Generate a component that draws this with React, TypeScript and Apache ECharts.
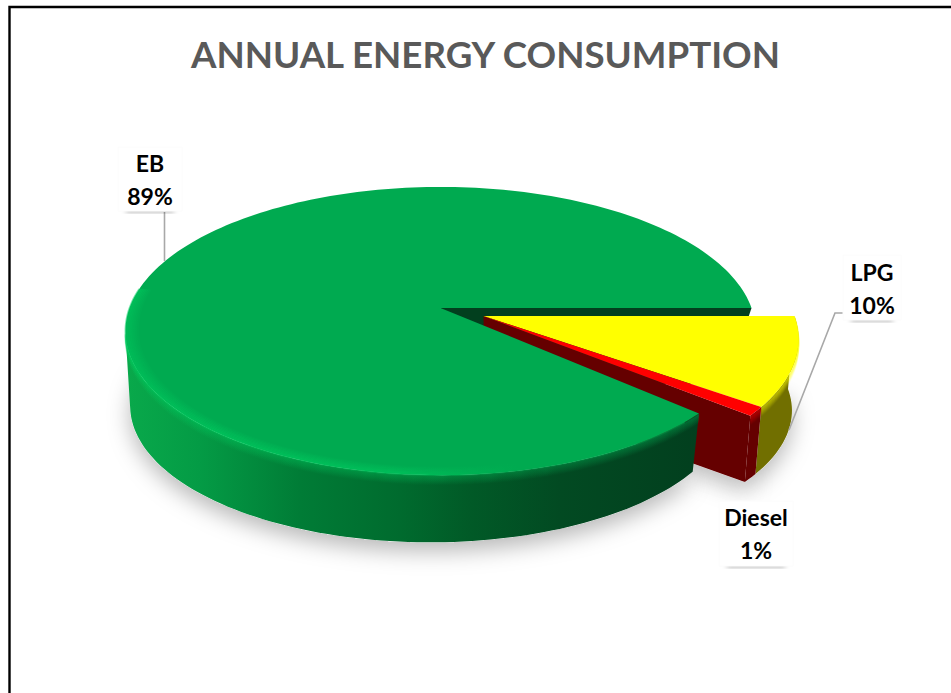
import React, { useEffect, useRef } from "react";
import * as echarts from "echarts";

// Annual energy consumption shares, drawn as a tilted, exploded 3D pie.
const categories = ["LPG", "Diesel", "EB"];
const shares = [10, 1, 89];
const chartTitle = "ANNUAL ENERGY CONSUMPTION";

const WIDTH = 951;
const HEIGHT = 693;

// Projective ellipse parameters of the disc's top and bottom rims.
const TILT = 0.16;
const TOP_RING = { cx: 440.5, cy: 308, a: 311, b: 140.4 };
const BOTTOM_RING = { cx: 430, cy: 384, a: 296, b: 133 };
const BOTTOM_RING_EXPLODED = { cx: 441, cy: 381, a: 304, b: 131 };
const EXPLODE = { LPG: [43, 8], Diesel: [43, 8], EB: [0, 0] };
// The large slice's cut leans slightly in perspective: top rim and base differ.
const CUT_GAP_TOP_DEG = 2.5;
const CUT_GAP_BOTTOM_DEG = -3;
const FRONT_WALL_END_DEG = 170;

const SLICE_STYLE = {
  LPG: { top: "#ffff00", side: "#716f00", wall: "#716f00" },
  Diesel: { top: "#ff0000", side: "#650000", wall: "#650000" },
  EB: { top: "#00aa50", side: "#014a22", wall: "#023f1e" },
};

const LABELS = {
  EB: { x: 150, y: 163, box: [118, 147, 64, 64] },
  LPG: { x: 872, y: 272, box: [843, 255, 58, 65] },
  Diesel: { x: 756, y: 517, box: [719, 501, 74, 65] },
};
const LEADERS = {
  EB: [[164.5, 212], [164.5, 261]],
  LPG: [[847, 313], [835, 313], [789, 430]],
};

type Ring = { cx: number; cy: number; a: number; b: number };

function project(deg: number, ring: Ring, off: number[], r = 1) {
  const t = (deg * Math.PI) / 180;
  const x = Math.cos(t) * r;
  const y = Math.sin(t) * r;
  const w = 1 - TILT * y;
  return [ring.cx + off[0] + (ring.a * x) / w, ring.cy + off[1] + (ring.b * y) / w];
}

function arc(from: number, to: number, ring: Ring, off: number[], r = 1) {
  const pts: number[][] = [];
  const n = Math.max(2, Math.ceil(Math.abs(to - from) / 1.5));
  for (let i = 0; i <= n; i++) pts.push(project(from + ((to - from) * i) / n, ring, off, r));
  return pts;
}

const xGradient = (stops: [number, string][], x0: number, x1: number) =>
  new echarts.graphic.LinearGradient(
    x0, 0, x1, 0,
    stops.map(([x, color]) => ({ offset: (x - x0) / (x1 - x0), color })),
    true,
  );

function sliceElements(name: string, start: number, end: number) {
  const off = EXPLODE[name];
  const style = SLICE_STYLE[name];
  const exploded = name !== "EB";
  const bottom = exploded ? BOTTOM_RING_EXPLODED : BOTTOM_RING;
  const out: any[] = [];
  const apexTop = [TOP_RING.cx + off[0], TOP_RING.cy + off[1]];
  const apexBottom = [bottom.cx + off[0], bottom.cy + off[1]];
  const cutTop = exploded ? start : start + CUT_GAP_TOP_DEG;
  const cutBottom = exploded ? start : start + CUT_GAP_BOTTOM_DEG;

  // soft drop shadow beneath the base
  out.push({
    type: "polygon",
    z2: 0,
    shape: { points: [apexBottom, ...arc(cutBottom, end, bottom, off)] },
    style: {
      fill: "#ffffff",
      shadowBlur: 22,
      shadowColor: "rgba(0,0,0,0.28)",
      shadowOffsetY: 9,
    },
  });

  const visibleEnd = exploded ? end : FRONT_WALL_END_DEG;
  const sideTop = arc(cutTop, visibleEnd, TOP_RING, off);
  const sideBottom = arc(cutBottom, visibleEnd, bottom, off);
  const sideFill =
    name === "EB"
      ? xGradient(
          [
            [125, "#09a94b"],
            [200, "#049b45"],
            [300, "#007c36"],
            [400, "#006b2e"],
            [470, "#015a27"],
            [560, "#024a22"],
            [700, "#023f1e"],
          ],
          125,
          700,
        )
      : style.side;
  const layer = exploded ? 2 : 5;

  out.push({
    type: "polygon",
    z2: layer,
    shape: { points: [...sideTop, ...sideBottom.slice().reverse()] },
    style: { fill: sideFill },
  });

  if (name === "EB") {
    // inner face of the cut, seen in the gap left by the pulled-out slices
    const a = project(0, TOP_RING, off);
    const b = project(0, bottom, off);
    out.push({
      type: "polygon",
      z2: 1,
      shape: { points: [apexTop, a, b, apexBottom] },
      style: { fill: style.wall },
    });
  }
  if (name === "Diesel") {
    // radial wall of the pulled-out slice, partly hidden by the large slice
    out.push({
      type: "polygon",
      z2: 2,
      shape: { points: [apexTop, project(end, TOP_RING, off), project(end, bottom, off), apexBottom] },
      style: { fill: style.wall },
    });
  }

  // bevel: the top colour bleeds a few pixels over the outer wall
  const bleed =
    name === "EB"
      ? xGradient(
          [
            [125, "#00c95c"],
            [400, "#00c25a"],
            [540, "#00a850"],
            [700, "#00a850"],
          ],
          125,
          700,
        )
      : style.top;
  for (let d = 9; d >= 1; d--) {
    out.push({
      type: "polyline",
      z2: layer + 1,
      shape: { points: arc(cutTop, visibleEnd, TOP_RING, [off[0], off[1] + d]) },
      style: { fill: "none", stroke: bleed, lineWidth: 1.6, opacity: (1 - d / 10) * 0.32 },
    });
  }

  out.push({
    type: "polygon",
    z2: layer + 2,
    shape: { points: [apexTop, ...arc(cutTop, end, TOP_RING, off)] },
    style: { fill: style.top },
  });

  if (name === "EB") {
    // brighter lip running just inside the front rim
    for (let i = 0; i < 8; i++) {
      const r = 1 - i * 0.0055;
      out.push({
        type: "polyline",
        z2: layer + 3,
        shape: { points: arc(46, 188, TOP_RING, off, r) },
        style: {
          fill: "none",
          stroke: xGradient(
            [
              [125, "#00cf60"],
              [400, "#00c85e"],
              [520, "#00aa50"],
              [700, "#00aa50"],
            ],
            125,
            700,
          ),
          lineWidth: 1.8,
          opacity: 0.5 * (1 - i / 8),
        },
      });
    }
  }

  return out;
}

function labelElements(name: string, share: number) {
  const pos = LABELS[name];
  const [bx, by, bw, bh] = pos.box;
  const out: any[] = [
    {
      type: "rect",
      z2: 20,
      shape: { x: bx + 8, y: by + bh - 3, width: bw - 16, height: 3 },
      style: { fill: "#999999", shadowBlur: 5, shadowColor: "rgba(0,0,0,0.4)", shadowOffsetY: 1 },
    },
    {
      type: "rect",
      z2: 21,
      shape: { x: bx, y: by, width: bw, height: bh },
      style: { fill: "#ffffff", stroke: "#fcfcfc", lineWidth: 1 },
    },
    {
      type: "text",
      z2: 22,
      style: {
        text: name,
        x: pos.x,
        y: pos.y,
        fill: "#000000",
        font: "bold 23px Lato",
        textAlign: "center",
        textVerticalAlign: "middle",
      },
    },
    {
      type: "text",
      z2: 22,
      style: {
        text: `${share}%`,
        x: pos.x,
        y: pos.y + 33,
        fill: "#000000",
        font: "bold 23px Lato",
        textAlign: "center",
        textVerticalAlign: "middle",
      },
    },
  ];
  if (LEADERS[name]) {
    out.push({
      type: "polyline",
      z2: 19,
      shape: { points: LEADERS[name] },
      style: { fill: "none", stroke: "#a8a8a8", lineWidth: 1.6 },
    });
  }
  return out;
}

export default function App() {
  const ref = useRef<HTMLDivElement>(null);

  useEffect(() => {
    const chart = echarts.init(ref.current!, undefined, { renderer: "svg" });
    const total = shares.reduce((s, v) => s + v, 0);
    const starts: number[] = [];
    shares.reduce((acc, v, i) => {
      starts[i] = acc;
      return acc + (v / total) * 360;
    }, 0);

    chart.setOption({
      animation: false,
      backgroundColor: "#ffffff",
      title: {
        text: chartTitle,
        left: 480.5,
        top: 30,
        textAlign: "center",
        textStyle: { color: "#595959", fontFamily: "Lato", fontWeight: "bold", fontSize: 36.7 },
      },
      graphic: [
        {
          type: "polyline",
          shape: { points: [[9.5, HEIGHT], [9.5, 7], [WIDTH, 7]] },
          style: { fill: "none", stroke: "#000000", lineWidth: 2.4 },
        },
      ],
      series: [
        {
          type: "custom",
          coordinateSystem: "none",
          silent: true,
          data: categories.map((name, i) => ({ name, value: [shares[i], i] })),
          renderItem: (_params: any, api: any) => {
            const share = api.value(0);
            const i = api.value(1);
            const name = categories[i];
            const start = starts[i];
            const end = start + (share / total) * 360;
            return {
              type: "group",
              children: [...sliceElements(name, start, end), ...labelElements(name, share)],
            };
          },
        },
      ],
    });
    return () => chart.dispose();
  }, []);

  return (
    <div
      ref={ref}
      style={{ position: "fixed", left: 0, top: 0, width: WIDTH, height: HEIGHT, background: "#fff" }}
    />
  );
}
